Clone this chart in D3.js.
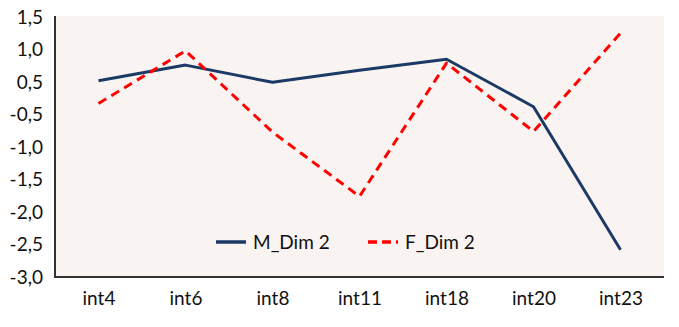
<!DOCTYPE html>
<html>
<head>
<meta charset="utf-8">
<script src="https://cdn.jsdelivr.net/npm/d3@7"></script>
<style>
    body { margin: 0; background: #fff; }
    svg text { font-family: Lato, "Open Sans", sans-serif; fill: #111; }
</style>
</head>
<body>
<div id="chart"></div>
<script>
'use strict';

// Categories along the x axis
var categories = ['int4', 'int6', 'int8', 'int11', 'int18', 'int20', 'int23'];

// Series values (in axis label units)
var mDim2 = [0.52, 0.76, 0.49, 0.68, 0.85, -0.26, -2.58];
var fDim2 = [-0.16, 0.98, -0.77, -1.76, 0.79, -0.76, 1.25];

// Tick labels as printed on the y axis (note: the axis jumps from 0,5 to -0,5)
var yTicks = [1.5, 1.0, 0.5, -0.5, -1.0, -1.5, -2.0, -2.5, -3.0];

var series = [
    {name: 'M_Dim 2', values: mDim2, color: '#1b3a66', dash: null},
    {name: 'F_Dim 2', values: fDim2, color: '#ff0000', dash: '9,6'}
];

var width  = 679,
    height = 327,
    margin = {top: 17, right: 15, bottom: 50, left: 55},
    fontSize = '19px';

var svg = d3.select('#chart').append('svg')
    .attr('width', width)
    .attr('height', height);

var plotW = width - margin.left - margin.right,
    plotH = height - margin.top - margin.bottom;

var vis = svg.append('g')
    .attr('transform', 'translate(' + margin.left + ',' + margin.top + ')');

// Plot background
vis.append('rect')
    .attr('x', 0)
    .attr('y', -1)
    .attr('width', plotW)
    .attr('height', plotH + 1)
    .attr('fill', '#f9f4f1');

var x = d3.scalePoint()
    .domain(categories)
    .range([0, plotW])
    .padding(0.5);

// Ticks are evenly spaced, so the scale is piecewise over the printed labels.
var step = plotH / (yTicks.length - 1);
var y = d3.scaleLinear()
    .domain(yTicks)
    .range(yTicks.map(function (d, i) {
        return i * step;
    }));

var fmt = function (d) {
    return d3.format('.1f')(d).replace('.', ',').replace('\u2212', '-');
};

// Left axis
var yAxis = vis.append('g')
    .call(d3.axisLeft(y).tickValues(yTicks).tickSize(0).tickPadding(12).tickFormat(fmt));
yAxis.select('.domain').remove();
yAxis.selectAll('text')
    .attr('font-size', fontSize)
    .attr('font-family', 'Lato, sans-serif')
    .attr('fill', '#111');

vis.append('line')
    .attr('x1', 0).attr('x2', 0)
    .attr('y1', -1).attr('y2', plotH)
    .attr('stroke', '#333')
    .attr('stroke-width', 2);

// Bottom axis
var xAxis = vis.append('g')
    .attr('transform', 'translate(0,' + plotH + ')')
    .call(d3.axisBottom(x).tickSize(0).tickPadding(15));
xAxis.select('.domain').remove();
xAxis.selectAll('text')
    .attr('font-size', fontSize)
    .attr('font-family', 'Lato, sans-serif')
    .attr('fill', '#111');

vis.append('line')
    .attr('x1', -1).attr('x2', plotW)
    .attr('y1', plotH).attr('y2', plotH)
    .attr('stroke', '#333')
    .attr('stroke-width', 2);

// Lines
var line = d3.line()
    .x(function (d, i) {
        return x(categories[i]);
    })
    .y(function (d) {
        return y(d);
    });

vis.selectAll('.series')
    .data(series)
    .enter().append('path')
    .attr('class', 'series')
    .attr('d', function (d) {
        return line(d.values);
    })
    .attr('fill', 'none')
    .attr('stroke', function (d) {
        return d.color;
    })
    .attr('stroke-width', 3)
    .attr('stroke-linejoin', 'round')
    .attr('stroke-dasharray', function (d) {
        return d.dash;
    });

// Legend
var legend = vis.selectAll('.legend')
    .data(series)
    .enter().append('g')
    .attr('class', 'legend')
    .attr('transform', function (d, i) {
        return 'translate(' + (161 + i * 152) + ',' + 225 + ')';
    });

legend.append('line')
    .attr('x1', 0).attr('x2', 30)
    .attr('y1', 0).attr('y2', 0)
    .attr('stroke', function (d) {
        return d.color;
    })
    .attr('stroke-width', 3.5)
    .attr('stroke-dasharray', function (d) {
        return d.dash ? '9,5' : null;
    });

legend.append('text')
    .attr('x', 37)
    .attr('y', 7)
    .attr('font-size', fontSize)
    .text(function (d) {
        return d.name;
    });
</script>
</body>
</html>
